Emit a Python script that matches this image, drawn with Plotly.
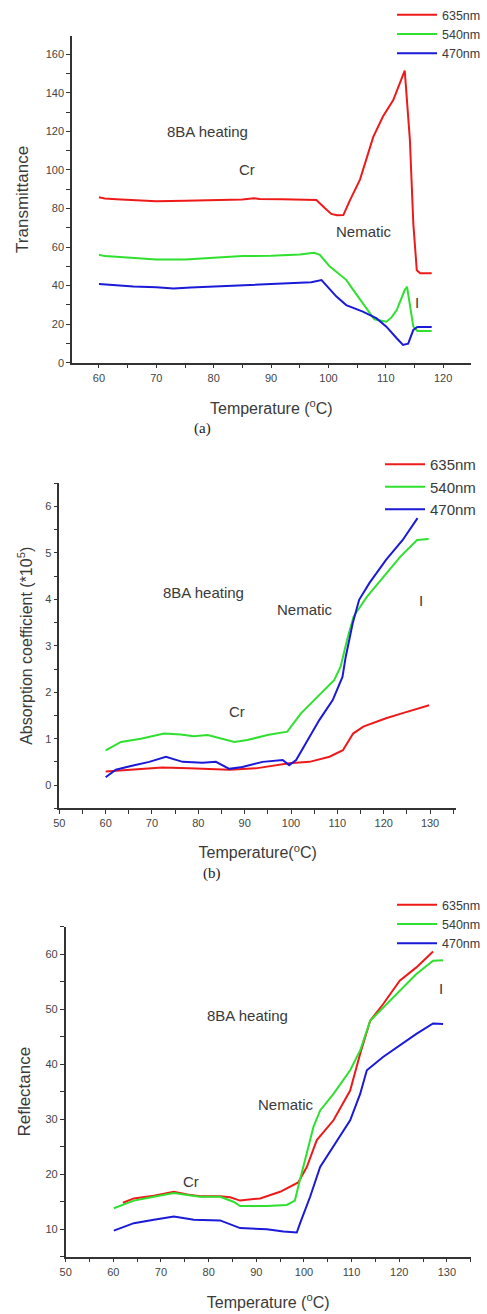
import plotly.graph_objects as go

W, H = 487, 1314

# ---------------- Panel (a): Transmittance ----------------
a_t_635 = [60, 61, 63, 66, 70, 75, 80, 85, 87, 88, 92, 96, 97.9, 99.4, 100.5, 101.5, 102.6, 103.7, 105.5, 107.8, 109.5, 111.3, 113, 113.3, 114.2, 114.8, 115.4, 116, 117, 118]
a_v_635 = [85.8, 85.2, 84.8, 84.3, 83.8, 84.0, 84.5, 84.7, 85.3, 84.9, 84.8, 84.7, 84.4, 80.1, 77.2, 76.5, 76.6, 84, 95, 117, 127.7, 136.3, 150, 151.5, 115.6, 72, 48, 46.4, 46.4, 46.4]
a_t_540 = [60, 61, 63, 66, 70, 75, 80, 85, 90, 95, 97.5, 98.5, 100.2, 101.5, 103.1, 104.5, 106, 108, 110.1, 111, 111.9, 113.3, 113.7, 114.2, 114.8, 115.5, 118]
a_v_540 = [56, 55.3, 55, 54.2, 53.5, 53.5, 54.5, 55.3, 55.5, 56.2, 57, 56, 50, 47, 43, 37, 30.8, 22.5, 21.3, 23.5, 27.3, 37.7, 39.4, 30, 18.7, 16.5, 16.5]
a_t_470 = [60, 61, 63, 66, 70, 73, 76, 80, 85, 90, 95, 97, 98.8, 100, 101.4, 103.1, 106, 108.4, 110.1, 111.9, 113, 113.9, 114.8, 115.5, 118]
a_v_470 = [40.8, 40.6, 40, 39.5, 39.1, 38.5, 39, 39.5, 40.5, 41, 41.5, 41.7, 42.9, 39, 34.3, 29.9, 26.5, 23, 18.7, 12.7, 9.2, 9.9, 17, 18.5, 18.5]

# ---------------- Panel (b): Absorption coefficient ----------------
b_t_635 = [60, 66.4, 72.2, 78, 86.7, 92.4, 99.6, 104, 108.3, 111.2, 113.4, 115.6, 120.5, 124.1, 129.8]
b_v_635 = [0.29, 0.34, 0.38, 0.36, 0.33, 0.36, 0.47, 0.50, 0.61, 0.75, 1.11, 1.26, 1.44, 1.55, 1.72]
b_t_540 = [60, 63.3, 67.6, 72.6, 76.2, 79, 82, 84.9, 87.8, 90.6, 94.9, 99.2, 102.1, 105.7, 109.3, 110.7, 112.1, 113.5, 116.4, 120, 123.6, 127.2, 129.7]
b_v_540 = [0.75, 0.93, 1.0, 1.11, 1.09, 1.05, 1.08, 1.0, 0.93, 0.97, 1.08, 1.15, 1.54, 1.9, 2.26, 2.55, 3.13, 3.63, 4.06, 4.49, 4.92, 5.28, 5.30]
b_t_470 = [60, 62.2, 65, 69.4, 73, 76.6, 80.9, 83.8, 86.7, 89.5, 93.9, 98.2, 99.6, 101.1, 103.2, 106.1, 109, 111.1, 111.8, 113.3, 114.7, 116.9, 120.5, 124.1, 127.3]
b_v_470 = [0.17, 0.33, 0.40, 0.50, 0.61, 0.50, 0.48, 0.50, 0.35, 0.39, 0.50, 0.54, 0.43, 0.54, 0.90, 1.40, 1.83, 2.33, 2.76, 3.48, 3.99, 4.35, 4.85, 5.28, 5.75]

# ---------------- Panel (c): Reflectance ----------------
c_t_635 = [62, 64.3, 68.5, 72.7, 75.5, 78.2, 82.4, 84.5, 86.6, 90.8, 95, 97.8, 98.8, 100.6, 102.7, 106.2, 109.7, 111.8, 113.9, 116.6, 120.1, 123.6, 127.1]
c_v_635 = [14.8, 15.6, 16.1, 16.8, 16.3, 16.0, 16.0, 15.8, 15.2, 15.6, 16.8, 18.0, 18.5, 21.3, 26.2, 29.8, 35.2, 41.9, 47.9, 50.9, 55.2, 57.6, 60.5]
c_t_540 = [60.1, 64.3, 68.5, 72.7, 75.5, 78.2, 82.4, 85.2, 86.6, 92.2, 96.4, 98.1, 98.8, 99.9, 102, 103.4, 106.2, 109.7, 111.8, 113.9, 116.6, 120.1, 123.6, 127.1, 129.2]
c_v_540 = [13.8, 15.2, 15.9, 16.6, 16.2, 15.9, 15.9, 15.0, 14.2, 14.2, 14.4, 15.2, 17.7, 21.3, 28.6, 31.6, 34.6, 38.9, 42.5, 47.9, 50.3, 53.4, 56.4, 58.8, 58.9]
c_t_470 = [60.1, 64.3, 68.5, 72.7, 76.9, 82.4, 86.6, 92.2, 95.7, 98.5, 99.2, 101.3, 103.4, 106.2, 109.7, 111.8, 113.2, 116.6, 120.1, 123.6, 127.1, 129.2]
c_v_470 = [9.75, 11.1, 11.7, 12.3, 11.7, 11.6, 10.2, 10.0, 9.6, 9.4, 11.1, 15.9, 21.3, 25.0, 29.8, 34.6, 38.9, 41.3, 43.4, 45.5, 47.4, 47.3]

series_names = ["635nm", "540nm", "470nm"]
colors = ["#ee1a1a", "#2fe02f", "#1a1ad8"]

FONT = "Liberation Sans, Arial, sans-serif"
TXT = "#3a3a3a"

fig = go.Figure()
panels = [
    ("x", "y", "legend", [(a_t_635, a_v_635), (a_t_540, a_v_540), (a_t_470, a_v_470)]),
    ("x2", "y2", "legend2", [(b_t_635, b_v_635), (b_t_540, b_v_540), (b_t_470, b_v_470)]),
    ("x3", "y3", "legend3", [(c_t_635, c_v_635), (c_t_540, c_v_540), (c_t_470, c_v_470)]),
]
for xa, ya, lg, data in panels:
    for (t, v), name, col in zip(data, series_names, colors):
        fig.add_trace(go.Scatter(x=t, y=v, mode="lines", name=name, xaxis=xa, yaxis=ya,
                                 legend=lg, line=dict(color=col, width=2)))

def px_x(p):
    return p / W

def px_y(p):
    return 1 - p / H

axis_common = dict(showline=True, linecolor="#333", linewidth=1.5, ticks="outside",
                   ticklen=4, tickwidth=1.3, tickcolor="#333", showgrid=False, zeroline=False,
                   tickfont=dict(family=FONT, size=11, color="#444"))

def xax(domain, rng, anchor, title, standoff):
    return dict(domain=domain, range=rng, anchor=anchor, dtick=10, tick0=0,
                minor=dict(dtick=5, tick0=0, ticks="outside", ticklen=4, tickcolor="#333", tickwidth=1.2),
                title=dict(text=title, font=dict(family=FONT, size=16, color=TXT), standoff=standoff),
                **axis_common)

def yax(domain, rng, anchor, dt, mdt, title, tsize, standoff):
    return dict(domain=domain, range=rng, anchor=anchor, dtick=dt, tick0=0,
                minor=dict(dtick=mdt, tick0=0, ticks="outside", ticklen=4, tickcolor="#333", tickwidth=1.2),
                title=dict(text=title, font=dict(family=FONT, size=tsize, color=TXT), standoff=standoff),
                **axis_common)

fig.update_layout(
    width=W, height=H, margin=dict(l=0, r=0, t=0, b=0, autoexpand=False),
    paper_bgcolor="white", plot_bgcolor="white",
    xaxis=xax([px_x(72), px_x(470.7)], [55.3, 124.8], "y", "Temperature (<sup>o</sup>C)", 20),
    yaxis=yax([px_y(362.7), px_y(36)], [0, 169.5], "x", 20, 10, "Transmittance", 17, 13),
    xaxis2=xax([px_x(59.3), px_x(456)], [50, 135.6], "y2", "Temperature(<sup>o</sup>C)", 19),
    yaxis2=yax([px_y(808.3), px_y(483.3)], [-0.5, 6.5], "x2", 1, 0.5, "Absorption coefficient (*10<sup>5</sup>)", 16, 9),
    xaxis3=xax([px_x(65.7), px_x(470.7)], [50, 135], "y3", "Temperature (<sup>o</sup>C)", 20),
    yaxis3=yax([px_y(1256.7), px_y(926.7)], [5, 65], "x3", 10, 5, "Reflectance", 17, 11),
    legend=dict(x=px_x(392), y=px_y(0), xanchor="left", yanchor="top", bgcolor="rgba(0,0,0,0)",
                font=dict(family=FONT, size=12.5, color=TXT), itemwidth=40, tracegroupgap=0),
    legend2=dict(x=px_x(380), y=px_y(448), xanchor="left", yanchor="top", bgcolor="rgba(0,0,0,0)",
                 font=dict(family=FONT, size=15, color=TXT), itemwidth=40, tracegroupgap=0),
    legend3=dict(x=px_x(392), y=px_y(890), xanchor="left", yanchor="top", bgcolor="rgba(0,0,0,0)",
                 font=dict(family=FONT, size=12.5, color=TXT), itemwidth=40, tracegroupgap=0),
)

ann_font = dict(family=FONT, size=15, color=TXT)
labels = [
    ("x", "y", 79.0, 119.7, "8BA heating"),
    ("x", "y", 85.8, 100, "Cr"),
    ("x", "y", 106.2, 68.3, "Nematic"),
    ("x", "y", 115.4, 31, "I"),
    ("x2", "y2", 81.1, 4.14, "8BA heating"),
    ("x2", "y2", 103.1, 3.79, "Nematic"),
    ("x2", "y2", 128.0, 3.97, "I"),
    ("x2", "y2", 88.4, 1.58, "Cr"),
    ("x3", "y3", 88.2, 48.8, "8BA heating"),
    ("x3", "y3", 96.3, 32.7, "Nematic"),
    ("x3", "y3", 76.3, 18.6, "Cr"),
    ("x3", "y3", 128.7, 53.7, "I"),
]
for xr, yr, xv, yv, txt in labels:
    fig.add_annotation(x=xv, y=yv, xref=xr, yref=yr, text=txt, showarrow=False, font=ann_font,
                       xanchor="center", yanchor="middle")

for txt, xp, yp in [("(a)", 202, 428), ("(b)", 212, 873)]:
    fig.add_annotation(x=px_x(xp), y=px_y(yp), xref="paper", yref="paper", text=txt, showarrow=False,
                       xanchor="center", yanchor="middle",
                       font=dict(family="Liberation Serif, Times New Roman, serif", size=15, color="#222"))

fig.write_html("out.html", config={"displayModeBar": False},
               post_script="document.body.style.margin='0';document.body.style.padding='0';"
                           "document.body.style.overflow='hidden';")
